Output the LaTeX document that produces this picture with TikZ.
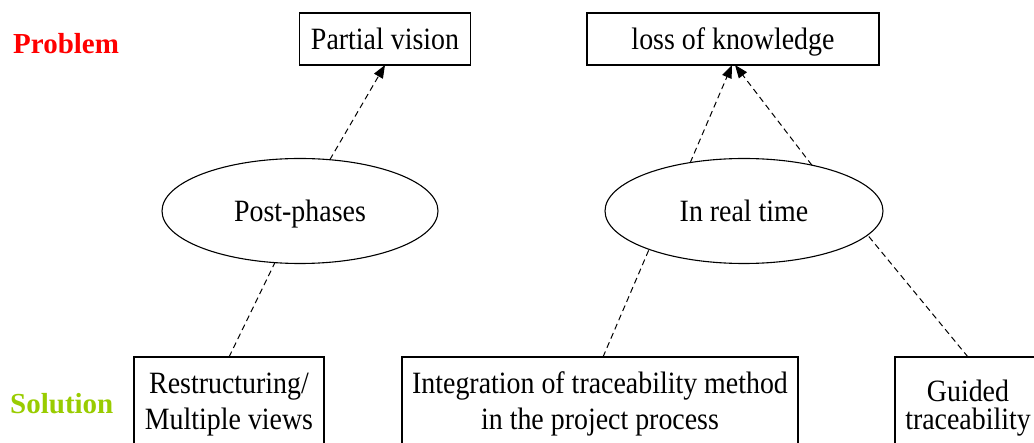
\documentclass[tikz,border=0pt]{standalone}
\usepackage{fontspec}
\setmainfont{Liberation Serif}
\newfontfamily\lblfont{Liberation Serif}
\newfontfamily\boxfont[FakeStretch=0.9]{Liberation Serif}
\usetikzlibrary{arrows.meta,shapes.geometric}
\definecolor{probred}{RGB}{255,0,0}
\definecolor{solgreen}{RGB}{153,204,0}
\begin{document}
\begin{tikzpicture}[x=1pt,y=-1pt,
  txt/.style={font=\boxfont\fontsize{31}{36}\selectfont, inner sep=0pt, outer sep=0pt},
  topbox/.style={txt, draw, line width=1.4pt, rectangle, minimum height=52pt,
                 text height=27pt, text depth=5pt},
  oval/.style={txt, draw, line width=1.1pt, ellipse, minimum height=105pt,
               text height=27pt, text depth=5pt},
  solbox/.style={draw, line width=1.4pt, rectangle, anchor=north west,
                 minimum height=110pt, inner sep=0pt, outer sep=0pt},
  line/.style={txt, anchor=base},
  conn/.style={line width=1pt, dash pattern=on 6pt off 4pt},
  tip/.style={-{Triangle[length=13pt,width=10pt]}},
  rowlbl/.style={anchor=base west, inner sep=0pt,
                 font=\lblfont\bfseries\fontsize{29}{34}\selectfont}
]
\useasboundingbox (0,0) rectangle (1034,443);
\clip (0,0) rectangle (1034,443);

% row labels
\node[rowlbl, text=probred] (prob) at (13,54) {Problem};
\node[rowlbl, text=solgreen] (sol) at (10,414) {Solution};

% problems
\node[topbox, minimum width=171pt] (pv) at (385,39) {Partial vision};
\node[topbox, minimum width=292pt] (lok) at (733,39) {loss of knowledge};

% approaches
\node[oval, minimum width=276pt] (pp) at (300,211) {Post-phases};
\node[oval, minimum width=278pt] (rt) at (744,211) {In real time};

% solutions
\node[solbox, minimum width=190pt] (b1) at (134,357) {};
\node[line] (b1a) at (229,394) {Restructuring/};
\node[line] (b1b) at (229,430) {Multiple views};

\node[solbox, minimum width=396pt] (b2) at (402,357) {};
\node[line] (b2a) at (600,394) {Integration of traceability method};
\node[line] (b2b) at (600,430) {in the project process};

\node[solbox, minimum width=146pt] (b3) at (895,357) {};
\node[line] (b3a) at (968,402) {Guided};
\node[line] (b3b) at (968,430) {traceability};

% connectors
\draw[conn, tip] (pp) -- (pv.south);
\draw[conn] (b1.north) -- (pp);
\draw[conn, tip] (rt.138) -- ([xshift=-1pt]lok.south);
\draw[conn, tip] (rt.34) -- ([xshift=2pt]lok.south);
\draw[conn] ([xshift=3pt]b2.north) -- (rt.202);
\draw[conn] (b3.north) -- (rt.349);
\end{tikzpicture}
\end{document}
